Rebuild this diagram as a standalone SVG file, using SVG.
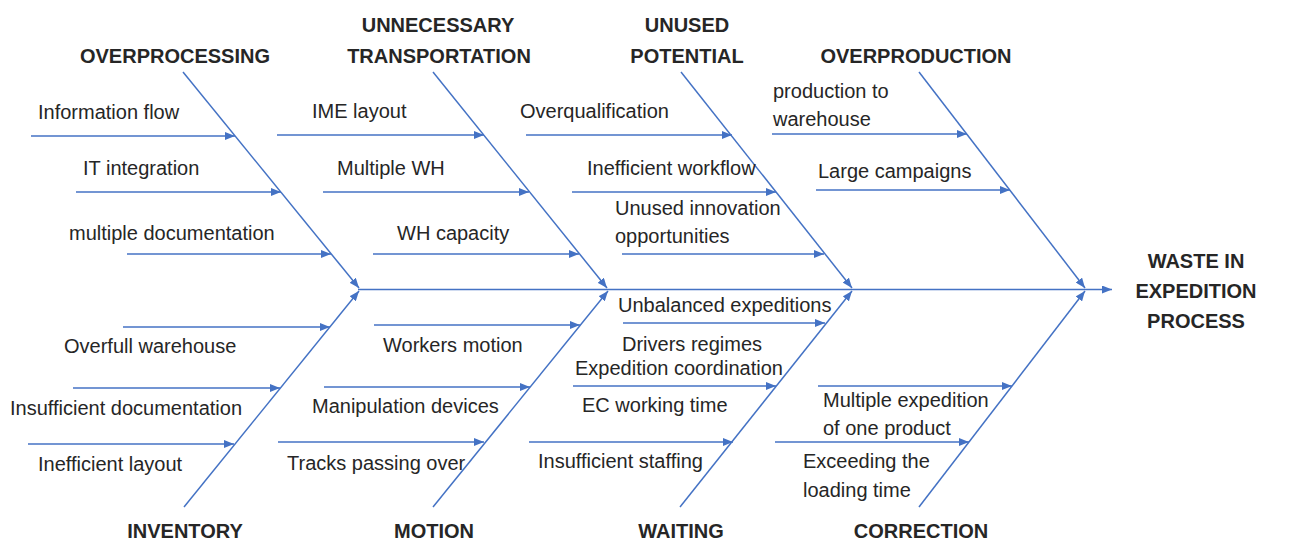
<svg xmlns="http://www.w3.org/2000/svg" width="1292" height="541" viewBox="0 0 1292 541">
  <style>
    .bg { fill: #ffffff; }
    .ln { stroke: #4472c4; stroke-width: 1.5; fill: none; marker-end: url(#ah); }
    .cat { font-family: "Liberation Sans", Arial, sans-serif; font-weight: bold; font-size: 20px; fill: #262626; text-anchor: middle; }
    .cause { font-family: "Liberation Sans", Arial, sans-serif; font-size: 20px; fill: #262626; }
  </style>
  <defs>
    <marker id="ah" markerUnits="userSpaceOnUse" markerWidth="11" markerHeight="8" refX="10" refY="4" orient="auto">
      <path d="M0,0 L10,4 L0,8 z" fill="#4472c4"/>
    </marker>
  </defs>
  <rect class="bg" x="0" y="0" width="1292" height="541"/>

  <!-- spine, ribs and cause branches -->
  <g id="connectors">
    <line class="ln" x1="358" y1="289.5" x2="1112" y2="289.5"/>
    <!-- upper ribs -->
    <line class="ln" x1="183" y1="72" x2="359" y2="288"/>
    <line class="ln" x1="433" y1="72" x2="607" y2="288"/>
    <line class="ln" x1="681" y1="72" x2="852" y2="288"/>
    <line class="ln" x1="919" y1="72" x2="1085" y2="288"/>
    <!-- lower ribs -->
    <line class="ln" x1="184" y1="507" x2="359" y2="291"/>
    <line class="ln" x1="433" y1="507" x2="608" y2="291"/>
    <line class="ln" x1="680" y1="507" x2="852" y2="291"/>
    <line class="ln" x1="919" y1="507" x2="1085" y2="291"/>
    <!-- overprocessing causes -->
    <line class="ln" x1="31" y1="136" x2="235" y2="136"/>
    <line class="ln" x1="76" y1="192" x2="281" y2="192"/>
    <line class="ln" x1="127" y1="254" x2="331" y2="254"/>
    <!-- transportation causes -->
    <line class="ln" x1="277" y1="135" x2="484" y2="135"/>
    <line class="ln" x1="323" y1="192" x2="529" y2="192"/>
    <line class="ln" x1="373" y1="254" x2="579" y2="254"/>
    <!-- unused potential causes -->
    <line class="ln" x1="526" y1="135" x2="732" y2="135"/>
    <line class="ln" x1="572" y1="192" x2="776" y2="192"/>
    <line class="ln" x1="622" y1="254" x2="824" y2="254"/>
    <!-- overproduction causes -->
    <line class="ln" x1="772" y1="134" x2="967" y2="134"/>
    <line class="ln" x1="816" y1="190" x2="1010" y2="190"/>
    <!-- inventory causes -->
    <line class="ln" x1="123" y1="327" x2="330" y2="327"/>
    <line class="ln" x1="73" y1="388" x2="280" y2="388"/>
    <line class="ln" x1="28" y1="444" x2="234" y2="444"/>
    <!-- motion causes -->
    <line class="ln" x1="374" y1="325" x2="580" y2="325"/>
    <line class="ln" x1="324" y1="387" x2="530" y2="387"/>
    <line class="ln" x1="278" y1="442" x2="484" y2="442"/>
    <!-- waiting causes -->
    <line class="ln" x1="623" y1="323" x2="825" y2="323"/>
    <line class="ln" x1="573" y1="386" x2="776" y2="386"/>
    <line class="ln" x1="529" y1="442" x2="733" y2="442"/>
    <!-- correction causes -->
    <line class="ln" x1="818" y1="386" x2="1012" y2="386"/>
    <line class="ln" x1="775" y1="442" x2="969" y2="442"/>
  </g>

  <!-- effect -->
  <g id="effect">
    <text class="cat" x="1196" y="268">WASTE IN</text>
    <text class="cat" x="1196" y="298">EXPEDITION</text>
    <text class="cat" x="1196" y="328">PROCESS</text>
  </g>

  <!-- categories -->
  <g id="cat-overprocessing"><text class="cat" x="175" y="63">OVERPROCESSING</text></g>
  <g id="cat-transportation">
    <text class="cat" x="438" y="32">UNNECESSARY</text>
    <text class="cat" x="439" y="63">TRANSPORTATION</text>
  </g>
  <g id="cat-unused-potential">
    <text class="cat" x="687" y="32">UNUSED</text>
    <text class="cat" x="687" y="63">POTENTIAL</text>
  </g>
  <g id="cat-overproduction"><text class="cat" x="916" y="63">OVERPRODUCTION</text></g>
  <g id="cat-inventory"><text class="cat" x="185" y="538">INVENTORY</text></g>
  <g id="cat-motion"><text class="cat" x="434" y="538">MOTION</text></g>
  <g id="cat-waiting"><text class="cat" x="681" y="538">WAITING</text></g>
  <g id="cat-correction"><text class="cat" x="921" y="538">CORRECTION</text></g>

  <!-- causes: overprocessing -->
  <g id="c-information-flow"><text class="cause" x="38" y="119">Information flow</text></g>
  <g id="c-it-integration"><text class="cause" x="83" y="175">IT integration</text></g>
  <g id="c-multiple-documentation"><text class="cause" x="69" y="240">multiple documentation</text></g>

  <!-- causes: transportation -->
  <g id="c-ime-layout"><text class="cause" x="312" y="118">IME layout</text></g>
  <g id="c-multiple-wh"><text class="cause" x="337" y="175">Multiple WH</text></g>
  <g id="c-wh-capacity"><text class="cause" x="397" y="240">WH capacity</text></g>

  <!-- causes: unused potential -->
  <g id="c-overqualification"><text class="cause" x="520" y="118">Overqualification</text></g>
  <g id="c-inefficient-workflow"><text class="cause" x="587" y="175">Inefficient workflow</text></g>
  <g id="c-unused-innovation">
    <text class="cause" x="615" y="215">Unused innovation</text>
    <text class="cause" x="615" y="243">opportunities</text>
  </g>

  <!-- causes: overproduction -->
  <g id="c-production-to-warehouse">
    <text class="cause" x="773" y="98">production to</text>
    <text class="cause" x="773" y="126">warehouse</text>
  </g>
  <g id="c-large-campaigns"><text class="cause" x="818" y="178">Large campaigns</text></g>

  <!-- causes: inventory -->
  <g id="c-overfull-warehouse"><text class="cause" x="64" y="353">Overfull warehouse</text></g>
  <g id="c-insufficient-documentation"><text class="cause" x="10" y="415">Insufficient documentation</text></g>
  <g id="c-inefficient-layout"><text class="cause" x="38" y="471">Inefficient layout</text></g>

  <!-- causes: motion -->
  <g id="c-workers-motion"><text class="cause" x="383" y="352">Workers motion</text></g>
  <g id="c-manipulation-devices"><text class="cause" x="312" y="413">Manipulation devices</text></g>
  <g id="c-tracks-passing-over"><text class="cause" x="287" y="470">Tracks passing over</text></g>

  <!-- causes: waiting -->
  <g id="c-unbalanced-expeditions"><text class="cause" x="618" y="312">Unbalanced expeditions</text></g>
  <g id="c-drivers-regimes"><text class="cause" x="622" y="351">Drivers regimes</text></g>
  <g id="c-expedition-coordination"><text class="cause" x="575" y="375">Expedition coordination</text></g>
  <g id="c-ec-working-time"><text class="cause" x="582" y="412">EC working time</text></g>
  <g id="c-insufficient-staffing"><text class="cause" x="538" y="468">Insufficient staffing</text></g>

  <!-- causes: correction -->
  <g id="c-multiple-expedition">
    <text class="cause" x="823" y="407">Multiple expedition</text>
    <text class="cause" x="823" y="435">of one product</text>
  </g>
  <g id="c-exceeding-loading-time">
    <text class="cause" x="803" y="468">Exceeding the</text>
    <text class="cause" x="803" y="497">loading time</text>
  </g>
</svg>
